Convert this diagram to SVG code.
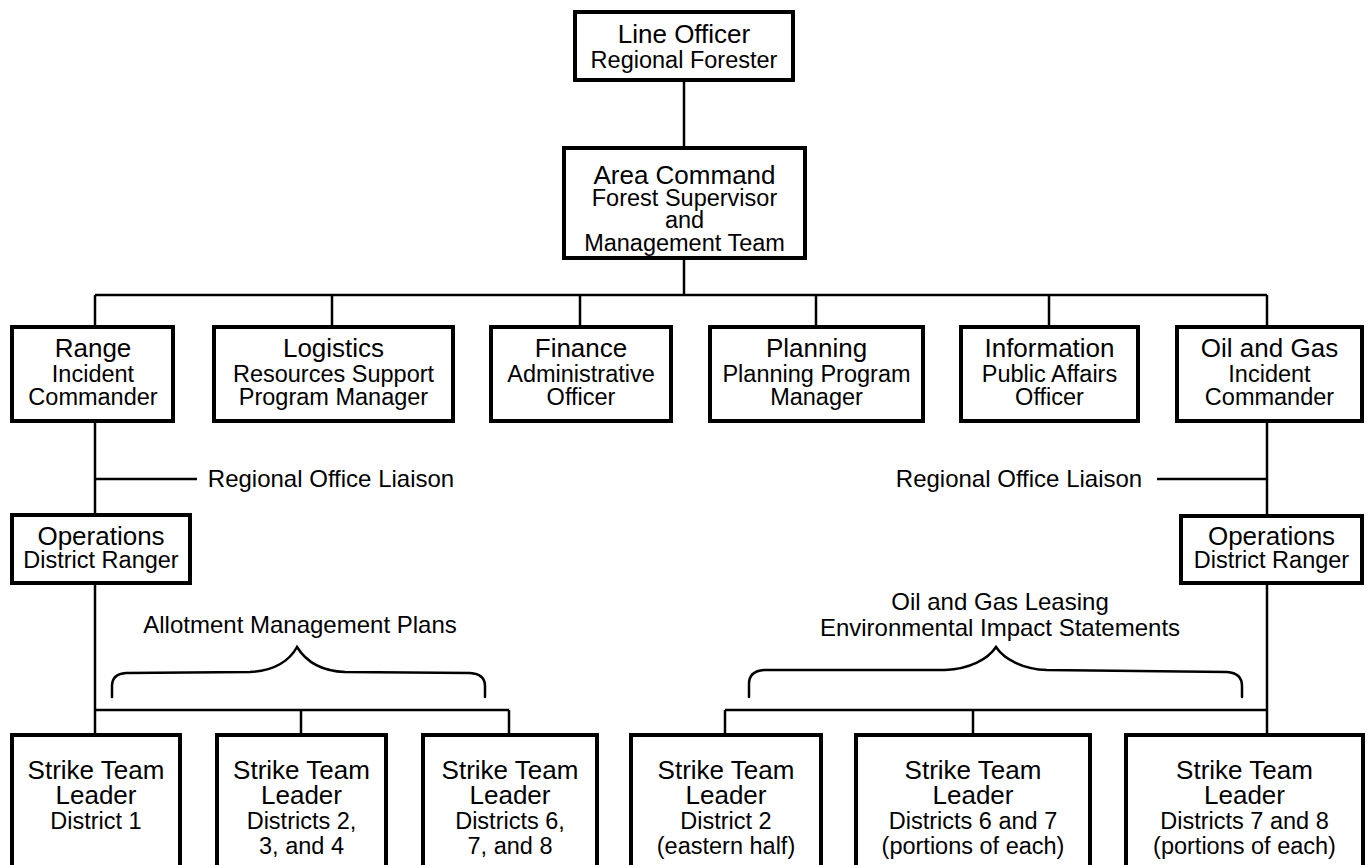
<svg xmlns="http://www.w3.org/2000/svg" width="1368" height="865" viewBox="0 0 1368 865">
<style>
  .box { fill: #fff; stroke: #000; stroke-width: 4; }
  .ln { fill: none; stroke: #000; stroke-width: 2.5; }
  .br { fill: none; stroke: #000; stroke-width: 2.5; stroke-linecap: round; }
  text { font-family: "Liberation Sans", Arial, Helvetica, sans-serif; fill: #000; text-anchor: middle; }
  .t { font-size: 26px; }
  .s { font-size: 23.5px; }
  .l { font-size: 24px; }
</style>
<rect width="1368" height="865" fill="#fff"/>
<g id="connectors">
  <line class="ln" x1="684" y1="82" x2="684" y2="146"/>
  <line class="ln" x1="684" y1="260" x2="684" y2="295"/>
  <line class="ln" x1="95" y1="295" x2="1267" y2="295"/>
  <line class="ln" x1="95" y1="295" x2="95" y2="325"/>
  <line class="ln" x1="332" y1="295" x2="332" y2="325"/>
  <line class="ln" x1="580" y1="295" x2="580" y2="325"/>
  <line class="ln" x1="816" y1="295" x2="816" y2="325"/>
  <line class="ln" x1="1049" y1="295" x2="1049" y2="325"/>
  <line class="ln" x1="1267" y1="295" x2="1267" y2="325"/>
  <line class="ln" x1="95" y1="423" x2="95" y2="513"/>
  <line class="ln" x1="95" y1="479" x2="197" y2="479"/>
  <line class="ln" x1="1267" y1="423" x2="1267" y2="514"/>
  <line class="ln" x1="1157" y1="479" x2="1267" y2="479"/>
  <line class="ln" x1="95" y1="585" x2="95" y2="733"/>
  <line class="ln" x1="95" y1="710" x2="509" y2="710"/>
  <line class="ln" x1="301" y1="710" x2="301" y2="733"/>
  <line class="ln" x1="509" y1="710" x2="509" y2="733"/>
  <line class="ln" x1="1267" y1="585" x2="1267" y2="733"/>
  <line class="ln" x1="725" y1="710" x2="1267" y2="710"/>
  <line class="ln" x1="725" y1="710" x2="725" y2="733"/>
  <line class="ln" x1="973" y1="710" x2="973" y2="733"/>
  <path class="br" d="M112,697 L112,686 Q112,674 126,673 L250,672 C275,671 290,660 297,647 C305,660 320,671 345,672 L470,673 Q485,674 485,686 L485,697"/>
  <path class="br" d="M749,697 L749,684 Q749,671 764,670 L945,670 C970,669 988,659 996,647 C1004,659 1022,669 1047,670 L1227,672 Q1242,673 1242,686 L1242,697"/>
</g>
<g id="labels">
  <text class="l" x="331" y="487">Regional Office Liaison</text>
  <text class="l" x="1019" y="487">Regional Office Liaison</text>
  <text class="l" x="300" y="633">Allotment Management Plans</text>
  <text class="l" x="1000" y="610">Oil and Gas Leasing</text>
  <text class="l" x="1000" y="636">Environmental Impact Statements</text>
</g>
<g id="line-officer">
  <rect class="box" x="575" y="12" width="218" height="68"/>
  <text class="t" x="684" y="43">Line Officer</text>
  <text class="s" x="684" y="68">Regional Forester</text>
</g>
<g id="area-command">
  <rect class="box" x="564" y="148" width="241" height="110"/>
  <text class="t" x="684.5" y="184">Area Command</text>
  <text class="s" x="684.5" y="206">Forest Supervisor</text>
  <text class="s" x="684.5" y="228">and</text>
  <text class="s" x="684.5" y="251">Management Team</text>
</g>
<g id="range">
  <rect class="box" x="12" y="327" width="161" height="94"/>
  <text class="t" x="93" y="357">Range</text>
  <text class="s" x="93" y="382">Incident</text>
  <text class="s" x="93" y="405">Commander</text>
</g>
<g id="logistics">
  <rect class="box" x="214" y="327" width="239" height="94"/>
  <text class="t" x="333.5" y="357">Logistics</text>
  <text class="s" x="333.5" y="382">Resources Support</text>
  <text class="s" x="333.5" y="405">Program Manager</text>
</g>
<g id="finance">
  <rect class="box" x="491" y="327" width="180" height="94"/>
  <text class="t" x="581" y="357">Finance</text>
  <text class="s" x="581" y="382">Administrative</text>
  <text class="s" x="581" y="405">Officer</text>
</g>
<g id="planning">
  <rect class="box" x="710" y="327" width="213" height="94"/>
  <text class="t" x="816.5" y="357">Planning</text>
  <text class="s" x="816.5" y="382">Planning Program</text>
  <text class="s" x="816.5" y="405">Manager</text>
</g>
<g id="information">
  <rect class="box" x="961" y="327" width="177" height="94"/>
  <text class="t" x="1049.5" y="357">Information</text>
  <text class="s" x="1049.5" y="382">Public Affairs</text>
  <text class="s" x="1049.5" y="405">Officer</text>
</g>
<g id="oil-gas">
  <rect class="box" x="1177" y="327" width="185" height="94"/>
  <text class="t" x="1269.5" y="357">Oil and Gas</text>
  <text class="s" x="1269.5" y="382">Incident</text>
  <text class="s" x="1269.5" y="405">Commander</text>
</g>
<g id="operations-left">
  <rect class="box" x="12" y="515" width="178" height="68"/>
  <text class="t" x="101" y="545">Operations</text>
  <text class="s" x="101" y="568">District Ranger</text>
</g>
<g id="operations-right">
  <rect class="box" x="1181" y="516" width="181" height="67"/>
  <text class="t" x="1271.5" y="545">Operations</text>
  <text class="s" x="1271.5" y="568">District Ranger</text>
</g>
<g id="strike-1">
  <rect class="box" x="12" y="735" width="168" height="140"/>
  <text class="t" x="96" y="779">Strike Team</text>
  <text class="t" x="96" y="804">Leader</text>
  <text class="s" x="96" y="829">District 1</text>
</g>
<g id="strike-2">
  <rect class="box" x="217" y="735" width="169" height="140"/>
  <text class="t" x="301.5" y="779">Strike Team</text>
  <text class="t" x="301.5" y="804">Leader</text>
  <text class="s" x="301.5" y="829">Districts 2,</text>
  <text class="s" x="301.5" y="854">3, and 4</text>
</g>
<g id="strike-3">
  <rect class="box" x="423" y="735" width="174" height="140"/>
  <text class="t" x="510" y="779">Strike Team</text>
  <text class="t" x="510" y="804">Leader</text>
  <text class="s" x="510" y="829">Districts 6,</text>
  <text class="s" x="510" y="854">7, and 8</text>
</g>
<g id="strike-4">
  <rect class="box" x="631" y="735" width="190" height="140"/>
  <text class="t" x="726" y="779">Strike Team</text>
  <text class="t" x="726" y="804">Leader</text>
  <text class="s" x="726" y="829">District 2</text>
  <text class="s" x="726" y="854">(eastern half)</text>
</g>
<g id="strike-5">
  <rect class="box" x="856" y="735" width="234" height="140"/>
  <text class="t" x="973" y="779">Strike Team</text>
  <text class="t" x="973" y="804">Leader</text>
  <text class="s" x="973" y="829">Districts 6 and 7</text>
  <text class="s" x="973" y="854">(portions of each)</text>
</g>
<g id="strike-6">
  <rect class="box" x="1126" y="735" width="237" height="140"/>
  <text class="t" x="1244.5" y="779">Strike Team</text>
  <text class="t" x="1244.5" y="804">Leader</text>
  <text class="s" x="1244.5" y="829">Districts 7 and 8</text>
  <text class="s" x="1244.5" y="854">(portions of each)</text>
</g>
</svg>
